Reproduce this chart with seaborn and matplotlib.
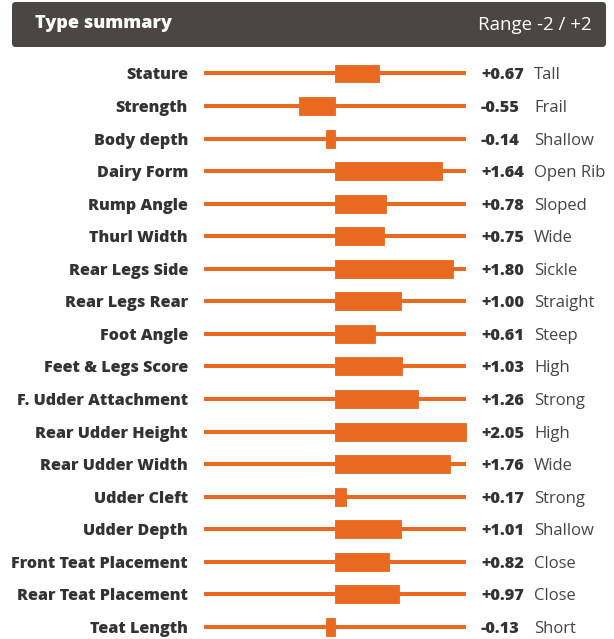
import numpy as np
import pandas as pd
import seaborn as sns
import matplotlib.pyplot as plt
from matplotlib.patches import FancyBboxPatch

traits = ["Stature", "Strength", "Body depth", "Dairy Form", "Rump Angle",
          "Thurl Width", "Rear Legs Side", "Rear Legs Rear", "Foot Angle",
          "Feet & Legs Score", "F. Udder Attachment", "Rear Udder Height",
          "Rear Udder Width", "Udder Cleft", "Udder Depth",
          "Front Teat Placement", "Rear Teat Placement", "Teat Length"]
scores = [0.67, -0.55, -0.14, 1.64, 0.78, 0.75, 1.80, 1.00, 0.61, 1.03,
          1.26, 2.05, 1.76, 0.17, 1.01, 0.82, 0.97, -0.13]
descriptors = ["Tall", "Frail", "Shallow", "Open Rib", "Sloped", "Wide",
               "Sickle", "Straight", "Steep", "High", "Strong", "High",
               "Wide", "Strong", "Shallow", "Close", "Close", "Short"]

orange = "#E8691F"
dark = "#333333"

sns.set_theme(style="white")
plt.rcParams['font.family'] = ['Open Sans', 'DejaVu Sans']

df = pd.DataFrame({"trait": traits, "score": scores, "desc": descriptors})
# bars are capped at the -2 / +2 range of the scale
df["shown"] = df["score"].clip(-2, 2)

fig = plt.figure(figsize=(6.14, 6.39), dpi=100)
ax = fig.add_axes([0, 0, 1, 1])

# scale: 65.5 px per unit, zero at px 334; rows every 32.55 px starting at px 73.5
ppu = 65.5
row_px = 32.55
ax.hlines(np.arange(len(traits)), -2, 2, color=orange, lw=2.9, zorder=1)
sns.barplot(data=df, x="shown", y="trait", orient="h", color=orange,
            width=0.55, saturation=1, ax=ax, zorder=2)
for p in ax.patches:
    p.set_edgecolor(orange)
    p.set_linewidth(0.6)
    p.set_joinstyle("round")

ax.set_xlim(-2 - 204 / ppu, 2 + (614 - 466) / ppu)
ax.set_ylim((639 - 73.5) / row_px, -73.5 / row_px)
ax.axis("off")

for i, row in df.iterrows():
    ax.text(-2 - 16 / ppu, i, row["trait"], ha="right", va="center_baseline",
            fontsize=11.6, fontweight=800, color=dark)
    ax.text(2 + 15 / ppu, i, f"{row['score']:+.2f}", ha="left",
            va="center_baseline", fontsize=11.8, fontweight=800, color=dark)
    ax.text(2 + 68 / ppu, i, row["desc"], ha="left", va="center_baseline",
            fontsize=12, color="#444444")

# header
W, H = 614, 639
hdr = FancyBboxPatch((12 / W, (H - 47) / H), 594 / W, 45 / H,
                     boxstyle="round,pad=0,rounding_size=0.006",
                     transform=fig.transFigure, facecolor="#4B4643",
                     edgecolor="none", zorder=0)
fig.add_artist(hdr)
fig.text(35 / W, (H - 21) / H, "Type summary", color="white", fontsize=13,
         fontweight=800, va="center_baseline", ha="left")
fig.text(592 / W, (H - 23) / H, "Range -2 / +2", color="white", fontsize=13.5,
         va="center_baseline", ha="right")

fig.savefig("out.png", dpi=100)
